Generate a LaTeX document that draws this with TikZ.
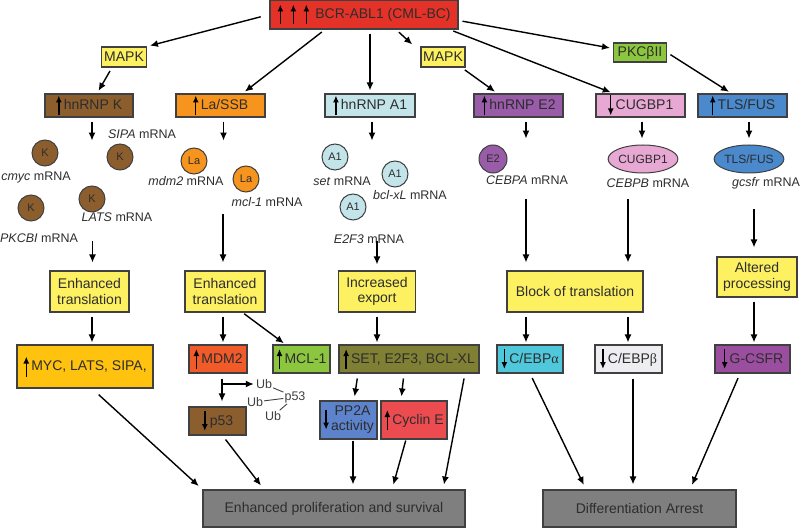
\documentclass[tikz,border=0pt]{standalone}
\usepackage{fontspec}
\setmainfont{Liberation Sans}
\newfontfamily\greekserif{Liberation Serif}
\usetikzlibrary{arrows.meta,shapes.geometric}
\definecolor{bcrred}{RGB}{229,50,40}
\definecolor{ylw}{RGB}{253,241,98}
\definecolor{pkcgreen}{RGB}{140,198,63}
\definecolor{kbrown}{RGB}{140,94,46}
\definecolor{laorange}{RGB}{247,148,30}
\definecolor{aone}{RGB}{195,229,234}
\definecolor{etwo}{RGB}{152,92,168}
\definecolor{cugpink}{RGB}{232,168,212}
\definecolor{tlsblue}{RGB}{74,137,204}
\definecolor{mycgold}{RGB}{255,194,14}
\definecolor{mdmred}{RGB}{241,90,41}
\definecolor{setolive}{RGB}{128,128,52}
\definecolor{ppblue}{RGB}{92,131,204}
\definecolor{cycred}{RGB}{236,75,80}
\definecolor{cebpcyan}{RGB}{80,200,220}
\definecolor{cebplight}{RGB}{238,238,242}
\definecolor{gpurple}{RGB}{155,78,160}
\definecolor{boxgray}{RGB}{127,127,127}
\definecolor{edge}{RGB}{64,64,64}
\definecolor{txt}{RGB}{45,45,45}
\newcommand{\upar}{\tikz[baseline=0pt]\draw[black,line width=1.4pt,-{Latex[length=7pt,width=6pt]}] (0pt,-6pt)--(0pt,14pt);\hspace{2pt}}
\newcommand{\dnar}{\tikz[baseline=0pt]\draw[black,line width=1.4pt,-{Latex[length=7pt,width=6pt]}] (0pt,14pt)--(0pt,-6pt);\hspace{2pt}}

\begin{document}
\begin{tikzpicture}[x=1pt,y=-1pt,
  box/.style={draw=edge,line width=1.1pt,inner sep=0pt,align=center,text=txt,
    font=\fontsize{14}{15.5}\selectfont},
  bubble/.style={circle,draw=edge,line width=1pt,minimum size=26pt,inner sep=0pt,
    text=txt,font=\fontsize{11}{12}\selectfont},
  oval/.style={ellipse,draw=edge,line width=1pt,minimum height=28pt,inner sep=0pt,
    text=txt,font=\fontsize{12}{13}\selectfont},
  lab/.style={inner sep=1pt,text=txt,font=\fontsize{12.5}{14}\selectfont},
  ub/.style={inner sep=1pt,text=edge,font=\fontsize{12.5}{14}\selectfont},
  arr/.style={line width=1.4pt,->,>={Latex[length=8pt,width=7pt]},shorten <=4pt,shorten >=3pt}]
\useasboundingbox (0,0) rectangle (800,529);

\node[box,fill=bcrred,minimum width=188pt,minimum height=29pt] (bcr) at (364,14.5)
  {\upar\hspace{5pt}\upar\hspace{5pt}\upar\hspace{4pt}BCR-ABL1 (CML-BC)};
\node[box,fill=ylw,minimum width=45pt,minimum height=20pt] (mapkl) at (124,57) {MAPK};
\node[box,fill=ylw,minimum width=44pt,minimum height=20pt] (mapkm) at (443,57) {MAPK};
\node[box,fill=pkcgreen,minimum width=53pt,minimum height=19pt] (pkc) at (640,52.5) {PKCβII};

\node[box,fill=kbrown,minimum width=88pt,minimum height=23pt] (hnrnpk) at (89,105.5) {\upar hnRNP K};
\node[box,fill=laorange,minimum width=89pt,minimum height=23pt] (lassb) at (220.5,105.5) {\upar La/SSB};
\node[box,fill=aone,minimum width=90pt,minimum height=23pt] (hnrnpa) at (370,105.5) {\upar hnRNP A1};
\node[box,fill=etwo,minimum width=89pt,minimum height=23pt] (hnrnpe) at (518.5,105.5) {\upar hnRNP E2};
\node[box,fill=cugpink,minimum width=89pt,minimum height=23pt] (cug) at (640.5,105.5) {\dnar CUGBP1};
\node[box,fill=tlsblue,minimum width=89pt,minimum height=23pt] (tls) at (742.5,105.5) {\upar TLS/FUS};

\node[bubble,fill=kbrown] (kone) at (45,153) {K};
\node[bubble,fill=kbrown] (ktwo) at (120,157) {K};
\node[bubble,fill=kbrown] (kthree) at (31,208) {K};
\node[bubble,fill=kbrown] (kfour) at (92,199) {K};
\node[lab] (sipa) at (142,134) {\textit{SIPA} mRNA};
\node[lab] (cmyc) at (36,177) {\textit{cmyc} mRNA};
\node[lab] (lats) at (117,217) {\textit{LATS} mRNA};
\node[lab] (pkcbi) at (39,238) {\textit{PKCBI} mRNA};

\node[bubble,fill=laorange] (laone) at (194,161) {La};
\node[bubble,fill=laorange] (latwo) at (246,179) {La};
\node[lab] (mdmm) at (186,181) {\textit{mdm2} mRNA};
\node[lab] (mclm) at (267,202) {\textit{mcl-1} mRNA};

\node[bubble,fill=aone] (aaone) at (335,157) {A1};
\node[bubble,fill=aone] (aatwo) at (395,174) {A1};
\node[bubble,fill=aone] (aathree) at (353,207) {A1};
\node[lab] (setm) at (342,181) {\textit{set} mRNA};
\node[lab] (bclm) at (410,195) {\textit{bcl-xL} mRNA};
\node[lab] (eftm) at (369,239) {\textit{E2F3} mRNA};

\node[bubble,fill=etwo,minimum size=28pt] (etwoc) at (493,159) {E2};
\node[oval,fill=cugpink,minimum width=66pt] (cugo) at (643,159) {CUGBP1};
\node[oval,fill=tlsblue,minimum width=65pt] (tlso) at (749,159) {TLS/FUS};
\node[lab] (cebpam) at (527,180) {\textit{CEBPA} mRNA};
\node[lab] (cebpbm) at (648,183) {\textit{CEBPB} mRNA};
\node[lab] (gcsfrm) at (766,183) {\textit{gcsfr} mRNA};

\node[box,fill=ylw,minimum width=79pt,minimum height=41pt] (etl) at (89.5,291.5) {Enhanced\\translation};
\node[box,fill=ylw,minimum width=80pt,minimum height=41pt] (etm) at (225,291.5) {Enhanced\\translation};
\node[box,fill=ylw,minimum width=77pt,minimum height=41pt] (iexp) at (377,291.5) {Increased\\export};
\node[box,fill=ylw,minimum width=136pt,minimum height=41pt] (block) at (575,291.5) {Block of translation};
\node[box,fill=ylw,minimum width=80pt,minimum height=40pt] (alt) at (757,277) {Altered\\processing};

\node[box,fill=mycgold,minimum width=136pt,minimum height=43pt] (myc) at (85,366.5) {\upar MYC, LATS, SIPA,};
\node[box,fill=mdmred,minimum width=58pt,minimum height=28pt] (mdm) at (218,359) {\upar MDM2};
\node[box,fill=pkcgreen,minimum width=57pt,minimum height=28pt] (mcl) at (301.5,359) {\upar MCL-1};
\node[box,fill=setolive,minimum width=140pt,minimum height=28pt] (setb) at (409,359) {\upar SET, E2F3, BCL-XL};
\node[box,fill=cebpcyan,minimum width=66pt,minimum height=28pt] (cebpa) at (530,359) {\dnar C/EBP{\greekserif α}};
\node[box,fill=cebplight,minimum width=67pt,minimum height=28pt] (cebpb) at (628.5,359) {\dnar C/EBP{\greekserif β}};
\node[box,fill=gpurple,minimum width=75pt,minimum height=28pt] (gcsfr) at (752.5,359) {\dnar G-CSFR};

\node[box,fill=kbrown,minimum width=57pt,minimum height=28pt] (pff) at (217.5,421) {\dnar p53};
\node[box,fill=ppblue,minimum width=57pt,minimum height=38pt] (pp) at (348.5,420)
  {\dnar\begin{tabular}{@{}c@{}}PP2A\\activity\end{tabular}};
\node[box,fill=cycred,minimum width=66pt,minimum height=38pt] (cyc) at (414,420) {\upar Cyclin E};

\node[ub] (ubone) at (264,384) {Ub};
\node[ub] (pub) at (295,397) {p53};
\node[ub] (ubtwo) at (255,402) {Ub};
\node[ub] (ubthree) at (273,416) {Ub};

\node[box,fill=boxgray,minimum width=262pt,minimum height=37pt] (epro) at (334,508.5) {Enhanced proliferation and survival};
\node[box,fill=boxgray,minimum width=193pt,minimum height=37pt] (darr) at (639.5,508.5) {Differentiation Arrest};

\draw[arr,shorten <=9pt] (bcr.west) -- (mapkl.north east);
\draw[arr] ([xshift=-39pt]bcr.south) -- ([xshift=22pt]lassb.north);
\draw[arr] (bcr.south -| hnrnpa.north) -- (hnrnpa.north);
\draw[arr] ([xshift=32pt]bcr.south) -- ([xshift=-6pt]mapkm.north west);
\draw[arr] ([xshift=-9pt]bcr.south east) -- ([xshift=-27pt]cug.north);
\draw[arr] ([yshift=-6pt]bcr.east) -- ([yshift=4pt]pkc.west);
\draw[arr] ([xshift=-12pt]mapkl.south) -- ([xshift=8pt]hnrnpk.north);
\draw[arr] ([xshift=-4pt]mapkm.south east) -- ([xshift=-21pt]hnrnpe.north);
\draw[arr] (pkc.east) -- ([xshift=-11pt]tls.north);

\draw[arr] ([xshift=3pt]hnrnpk.south) -- ([xshift=3pt,yshift=-26pt]hnrnpk.south);
\draw[arr] ([xshift=3pt]lassb.south) -- ([xshift=3pt,yshift=-26pt]lassb.south);
\draw[arr] ([xshift=2pt]hnrnpa.south) -- ([xshift=2pt,yshift=-26pt]hnrnpa.south);
\draw[arr] ([xshift=7.5pt]hnrnpe.south) -- ([xshift=7.5pt,yshift=-24pt]hnrnpe.south);
\draw[arr] ([xshift=1.5pt]cug.south) -- ([xshift=1.5pt,yshift=-24pt]cug.south);
\draw[arr] ([xshift=6.5pt]tls.south) -- ([xshift=6.5pt,yshift=-24pt]tls.south);

\draw[arr,shorten <=0pt,shorten >=8pt] ([xshift=3pt,yshift=29pt]etl.north) -- ([xshift=3pt]etl.north);
\draw[arr,shorten <=0pt,shorten >=8pt] ([xshift=-2pt,yshift=56pt]etm.north) -- ([xshift=-2pt]etm.north);
\draw[arr,shorten <=0pt,shorten >=6pt] (iexp.north) ++(0,-29) -- (iexp.north);
\draw[arr,shorten <=0pt,shorten >=8pt] ([xshift=-49pt,yshift=71pt]block.north) -- ([xshift=-49pt]block.north);
\draw[arr,shorten <=0pt,shorten >=8pt] ([xshift=53pt,yshift=71pt]block.north) -- ([xshift=53pt]block.north);
\draw[arr,shorten <=0pt,shorten >=9pt] ([xshift=-3pt,yshift=47pt]alt.north) -- ([xshift=-3pt]alt.north);

\draw[arr,shorten >=2pt] ([xshift=2.5pt]etl.south) -- ([xshift=2.5pt]etl.south |- myc.north);
\draw[arr,shorten >=2pt] ([xshift=-2pt]etm.south) -- ([xshift=-2pt]etm.south |- mdm.north);
\draw[arr,shorten <=2pt,shorten >=2pt] ([xshift=-23pt]etm.south east) -- ([xshift=-16pt]mcl.north);
\draw[arr,shorten >=2pt] (iexp.south) -- (iexp.south |- setb.north);
\draw[arr,shorten >=2pt] ([xshift=-49pt]block.south) -- ([xshift=-49pt]block.south |- cebpa.north);
\draw[arr,shorten >=2pt] ([xshift=53pt]block.south) -- ([xshift=53pt]block.south |- cebpb.north);
\draw[arr,shorten >=2pt] ([xshift=-3pt]alt.south) -- ([xshift=-3pt]alt.south |- gcsfr.north);

\draw[arr,shorten <=5pt,shorten >=5pt] ([xshift=4pt]mdm.south) -- ([xshift=4pt]mdm.south |- pff.north);
\draw[arr,shorten <=0pt,shorten >=1pt] ([xshift=4pt]mdm.south |- ubone.west) -- (ubone.west);
\draw[edge,line width=0.9pt] (ubone) -- (pub);
\draw[edge,line width=0.9pt] (ubtwo) -- (pub);
\draw[edge,line width=0.9pt] (ubthree) -- (pub);
\draw[arr,shorten <=5pt,shorten >=4pt] ([xshift=-51pt]setb.south) -- ([xshift=5.5pt]pp.north);
\draw[arr,shorten <=5pt,shorten >=4pt] ([xshift=-5pt]setb.south) -- ([xshift=-13pt]cyc.north);

\draw[arr,shorten <=9pt,shorten >=5pt] ([xshift=7pt]myc.south) -- (epro.north west);
\draw[arr,shorten <=5pt,shorten >=5pt] ([xshift=5pt]pff.south) -- ([xshift=-70pt]epro.north);
\draw[arr,shorten <=1pt,shorten >=5pt] ([xshift=4.5pt]pp.south) -- ([xshift=4.5pt]pp.south |- epro.north);
\draw[arr,shorten <=1pt,shorten >=5pt] ([xshift=-8pt]cyc.south) -- ([xshift=58pt]epro.north);
\draw[arr,shorten <=5pt,shorten >=5pt] ([xshift=56pt]setb.south) -- ([xshift=109pt]epro.north);
\draw[arr,shorten <=5pt,shorten >=5pt] (cebpa.south) -- ([xshift=-53.5pt]darr.north);
\draw[arr,shorten <=5pt,shorten >=5pt] ([xshift=4.5pt]cebpb.south) -- ([xshift=-6.5pt]darr.north);
\draw[arr,shorten <=5pt,shorten >=5pt] ([xshift=-12.5pt]gcsfr.south) -- ([xshift=50.5pt]darr.north);
\end{tikzpicture}
\end{document}
